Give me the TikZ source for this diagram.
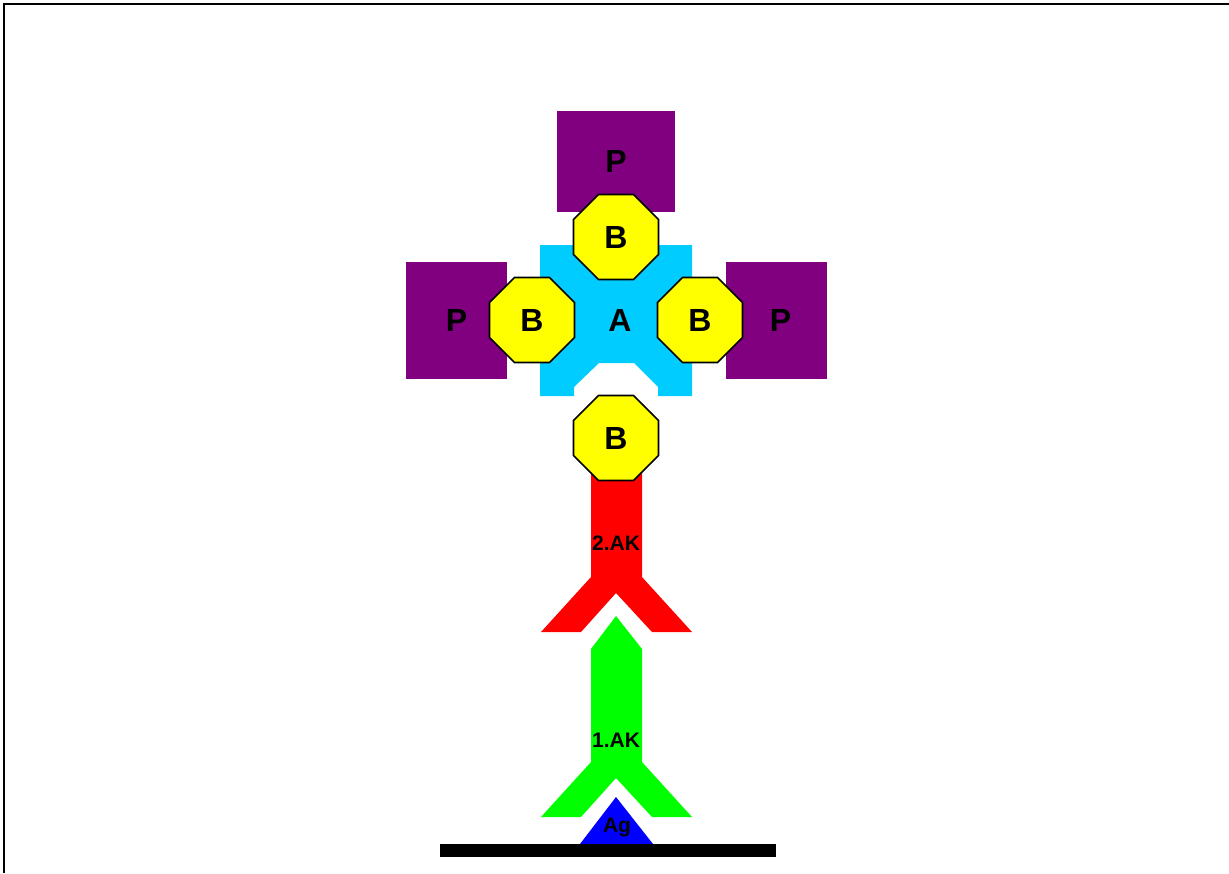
\documentclass[tikz,border=0pt]{standalone}
\usepackage{fontspec}
\setmainfont{Liberation Sans}
\usepackage{tikz}
\usetikzlibrary{shapes.geometric}
\definecolor{ColP}  {RGB}{128,0,128}
\definecolor{ColA}  {RGB}{0,204,255}
\definecolor{ColB}  {RGB}{255,255,0}
\definecolor{ColAK2}{RGB}{255,0,0}
\definecolor{ColAK1}{RGB}{0,255,0}
\definecolor{ColAg} {RGB}{0,0,255}
\tikzset{
  nd_p/.style={rectangle,fill=ColP,inner sep=0pt,font=\bfseries\fontsize{32}{32}\selectfont},
  nd_b/.style={regular polygon,regular polygon sides=8,draw=black,line width=1.6pt,fill=ColB,minimum size=92pt,inner sep=0pt,font=\bfseries\fontsize{32}{32}\selectfont},
  nd_big/.style={inner sep=0pt,font=\bfseries\fontsize{32}{32}\selectfont},
  nd_small/.style={inner sep=0pt,font=\bfseries\fontsize{21}{21}\selectfont},
}
\begin{document}
\begin{tikzpicture}[x=1pt,y=-1pt]
\useasboundingbox(0,0) rectangle (1229,873);
\draw[line width=2pt](4,873)--(4,4)--(1229,4);
% P squares
\node[nd_p,minimum width=118pt,minimum height=101pt] at (616,161.5)(Ptop){P};
\node[nd_p,minimum width=101pt,minimum height=117pt] at (456.5,320.5)(Pleft){P};
\node[nd_p,minimum width=101pt,minimum height=117pt] at (776.5,320.5)(Pright){\hspace*{8pt}P};
% A
\fill[ColA](540,245)--(692,245)--(692,396)--(658,396)--(658,387)--(634,363)--(599,363)
  --(574,387)--(574,396)--(540,396)--cycle;
\node[nd_big] at (620,320)(A){A};
% 2.AK
\fill[ColAK2](591,470)--(642,470)--(642,577)--(692,632)--(652,632)--(616,593)
  --(581,632)--(541,632)--(591,577)--cycle;
\node[nd_small] at (616,543)(AK2){2.AK};
% B
\node[nd_b] at (616,237)(Btop){B};
\node[nd_b] at (532,320)(Bleft){B};
\node[nd_b] at (700,320)(Bright){B};
\node[nd_b] at (616,438)(Bbot){B};
% 1.AK
\fill[ColAK1](616,616)--(642,649)--(642,762)--(692,817)--(652,817)--(616,778)
  --(581,817)--(541,817)--(591,762)--(591,649)--cycle;
\node[nd_small] at (616,740)(AK1){1.AK};
% Ag
\fill[ColAg](616,797)--(653,844)--(580,844)--cycle;
\node[nd_small] at (617,827)(Ag){Ag};
\fill[black](440,844) rectangle (776,857);
\end{tikzpicture}
\end{document}
